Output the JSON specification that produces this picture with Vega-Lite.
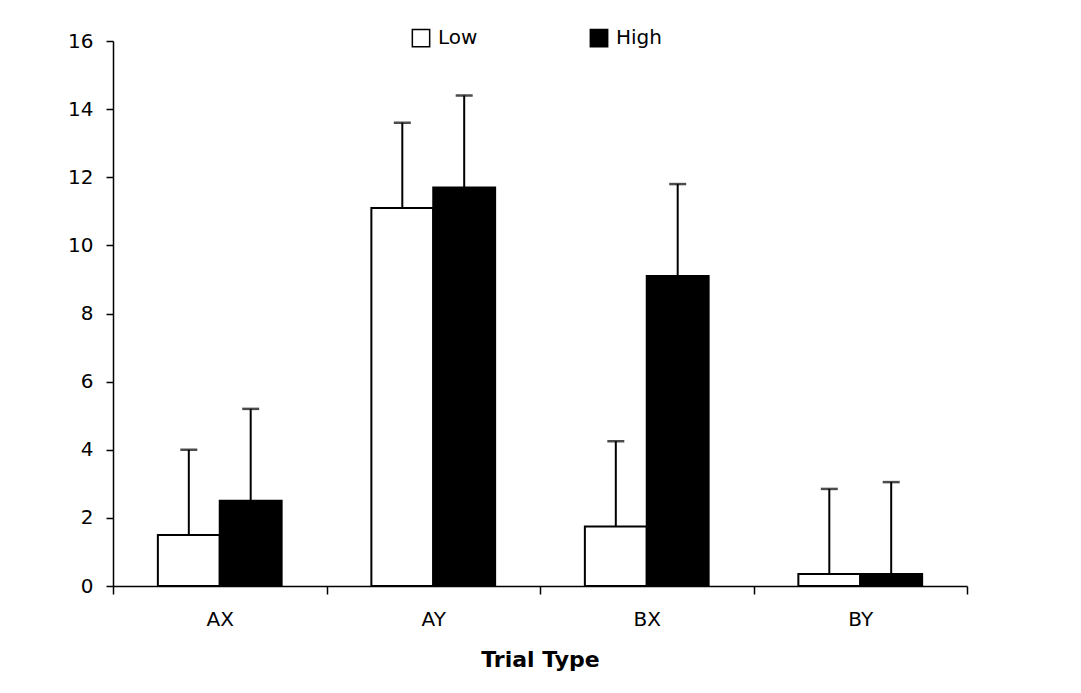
{
  "$schema": "https://vega.github.io/schema/vega-lite/v6.json",
  "width": 854,
  "height": 545,
  "padding": {"left": 67, "top": 28, "right": 5, "bottom": 5},
  "background": "white",
  "config": {
    "font": "DejaVu Sans",
    "view": {"stroke": null},
    "axis": {"labelFont": "DejaVu Sans", "titleFont": "DejaVu Sans", "labelColor": "black", "titleColor": "black", "domainColor": "black", "tickColor": "black", "domainWidth": 1.5, "tickWidth": 1.5}
  },
  "data": {
    "values": [
      {"trial": "AX", "group": "Low", "mean": 1.5, "upper": 4.0},
      {"trial": "AX", "group": "High", "mean": 2.5, "upper": 5.2},
      {"trial": "AY", "group": "Low", "mean": 11.1, "upper": 13.6},
      {"trial": "AY", "group": "High", "mean": 11.7, "upper": 14.4},
      {"trial": "BX", "group": "Low", "mean": 1.75, "upper": 4.25},
      {"trial": "BX", "group": "High", "mean": 9.1, "upper": 11.8},
      {"trial": "BY", "group": "Low", "mean": 0.35, "upper": 2.85},
      {"trial": "BY", "group": "High", "mean": 0.35, "upper": 3.05}
    ]
  },
  "encoding": {
    "x": {
      "field": "trial", "type": "nominal", "sort": ["AX", "AY", "BX", "BY"],
      "scale": {"paddingInner": 0, "paddingOuter": 0},
      "axis": {"title": "Trial Type", "labelAngle": 0, "labelFontSize": 20, "titleFontSize": 22, "titleFontWeight": "bold", "tickBand": "extent", "tickSize": 8, "labelPadding": 15, "titlePadding": 20}
    },
    "xOffset": {"field": "group", "type": "nominal", "sort": ["Low", "High"], "scale": {"paddingInner": 0, "paddingOuter": 0.725}}
  },
  "layer": [
    {
      "mark": {"type": "bar", "stroke": "black", "strokeWidth": 2},
      "encoding": {
        "y": {
          "field": "mean", "type": "quantitative",
          "scale": {"domain": [0, 16], "nice": false},
          "axis": {"title": null, "values": [0, 2, 4, 6, 8, 10, 12, 14, 16], "grid": false, "labelFontSize": 20, "tickSize": 7, "labelPadding": 13}
        },
        "fill": {
          "field": "group", "type": "nominal",
          "scale": {"domain": ["Low", "High"], "range": ["white", "black"]},
          "legend": {
            "title": null, "orient": "none", "direction": "horizontal",
            "legendX": 298, "legendY": -13,
            "symbolType": "square", "symbolSize": 300, "symbolStrokeColor": "black", "symbolStrokeWidth": 1.5,
            "labelFontSize": 20, "labelColor": "black", "labelOffset": 7, "columnPadding": 109
          }
        }
      }
    },
    {
      "mark": {"type": "rule", "color": "black", "strokeWidth": 2},
      "encoding": {
        "y": {"field": "mean", "type": "quantitative"},
        "y2": {"field": "upper"}
      }
    },
    {
      "mark": {"type": "tick", "color": "black", "thickness": 2.5, "size": 17, "orient": "horizontal"},
      "encoding": {
        "y": {"field": "upper", "type": "quantitative"}
      }
    }
  ]
}
